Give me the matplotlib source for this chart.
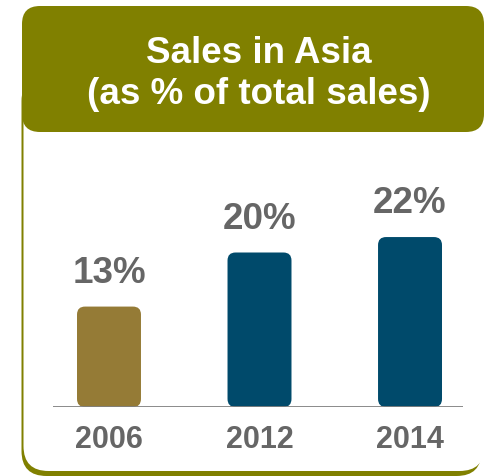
import matplotlib
matplotlib.use("Agg")
import matplotlib.pyplot as plt
from matplotlib.patches import FancyBboxPatch

plt.rcParams['font.family'] = ['Liberation Sans', 'DejaVu Sans']

years = ['2006', '2012', '2014']
share = [13, 20, 22]
bar_colors = ['#957B36', '#004A6B', '#004A6B']

OLIVE = '#808000'
GREY_TEXT = '#666666'

W, H = 484, 477
fig = plt.figure(figsize=(W / 100, H / 100), dpi=100)

# background panel drawn in pixel units
bg = fig.add_axes([0, 0, 1, 1])
bg.set_xlim(0, W)
bg.set_ylim(0, H)
bg.axis('off')

shadow = FancyBboxPatch((21.5, 0), 460, 400, boxstyle='round,pad=0,rounding_size=25',
                        fc=OLIVE, ec='none')
body = FancyBboxPatch((23.5, 5), 461, 400, boxstyle='round,pad=0,rounding_size=25',
                      fc='white', ec='none')
header = FancyBboxPatch((22, 344), 462, 126, boxstyle='round,pad=0,rounding_size=18',
                        fc=OLIVE, ec='none')
for p in (shadow, body, header):
    bg.add_patch(p)

bg.text(259, 403, 'Sales in Asia\n(as % of total sales)', ha='center', va='center',
        color='white', fontsize=26.5, fontweight='bold', linespacing=1.25)

# bar chart
ax_left, ax_bottom, ax_w, ax_h = 53, 69, 410, 309
ax = fig.add_axes([ax_left / W, ax_bottom / H, ax_w / W, ax_h / H])
ax.patch.set_alpha(0)
xmin, xmax = -0.372, 2.352
ymax = 40
ax.set_xlim(xmin, xmax)
ax.set_ylim(0, ymax)

x = list(range(len(years)))
bars = ax.bar(x, share, width=0.425, color=bar_colors)

px_x = ax_w / (xmax - xmin)
px_y = ax_h / ymax
radius = 8
for rect in bars:
    rect.set_visible(False)
    rb = FancyBboxPatch((rect.get_x(), rect.get_y()), rect.get_width(), rect.get_height(),
                        boxstyle=f'round,pad=0,rounding_size={radius / px_x}',
                        mutation_aspect=px_x / px_y,
                        fc=rect.get_facecolor(), ec='none', zorder=2)
    ax.add_patch(rb)

for xi, v in zip(x, share):
    ax.annotate(f'{v}%', (xi, v), xytext=(0, 12), textcoords='offset points',
                ha='center', va='bottom', color=GREY_TEXT, fontsize=26.5,
                fontweight='bold', annotation_clip=False)

ax.axhline(0, color='#808080', lw=2, zorder=3)

for s in ax.spines.values():
    s.set_visible(False)
ax.set_yticks([])
ax.set_xticks(x)
ax.set_xticklabels(years, fontsize=22, fontweight='bold', color=GREY_TEXT)
ax.tick_params(axis='x', length=0, pad=12)

fig.savefig('out.png', dpi=100)
